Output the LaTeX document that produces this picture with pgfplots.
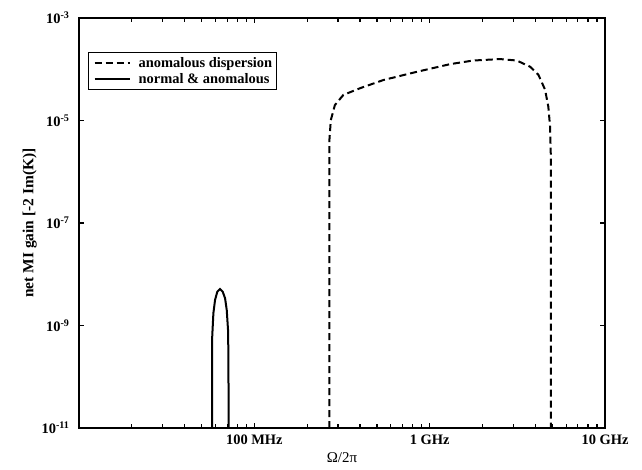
\documentclass[border=0pt]{standalone}
\usepackage{fontspec}
\setmainfont{Liberation Serif}
\usepackage{pgfplots}
\pgfplotsset{compat=1.18}

\newcommand{\figfont}{\fontsize{14.5}{17}\selectfont\bfseries}

\begin{document}
\begin{tikzpicture}
\begin{axis}[
    name=ax,
    scale only axis,
    width=526bp,
    height=410bp,
    xmode=log, ymode=log,
    xmin=1e7, xmax=1e10,
    ymin=1e-11, ymax=1e-3,
    xtick={1e8,1e9,1e10},
    xticklabels={100 MHz,1 GHz,10 GHz},
    minor xtick={2e7,3e7,4e7,5e7,6e7,7e7,8e7,9e7,2e8,3e8,4e8,5e8,6e8,7e8,8e8,9e8,2e9,3e9,4e9,5e9,6e9,7e9,8e9,9e9},
    ytick={1e-11,1e-9,1e-7,1e-5,1e-3},
    yticklabels={10\textsuperscript{-11},10\textsuperscript{-9},10\textsuperscript{-7},10\textsuperscript{-5},10\textsuperscript{-3}},
    minor ytick={},
    major tick length=5bp,
    minor tick length=4bp,
    every tick/.style={black, line width=1.2bp},
    axis line style={line width=1.6bp},
    tick label style={font=\figfont},
    yticklabel style={xshift=-6bp},
    xticklabel style={yshift=-3bp},
    xlabel={Ω/2π},
    ylabel={net MI gain [-2 Im(K)]},
    xlabel style={font=\fontsize{15}{17}\selectfont\mdseries, yshift=-1bp},
    ylabel style={font=\fontsize{15.5}{18}\selectfont\bfseries, yshift=-2bp},
    legend style={at={(0,1)}, anchor=north west, xshift=9bp, yshift=-34bp,
        draw=black, line width=1.2bp, fill=white, inner xsep=2bp, inner ysep=3bp,
        row sep=0bp, font=\figfont},
    legend cell align=left,
    legend image code/.code={\path (0bp,0bp) (44bp,0bp); \draw[#1, line width=1.8bp] (3bp,0bp) -- (38bp,0bp);},
]

\addplot[black, line width=2bp, dash pattern=on 7bp off 4bp] coordinates {
    (2.68e8,1e-11) (2.68e8,4.17e-6) (2.73e8,1.02e-5) (2.88e8,2.0e-5)
    (3.22e8,3.16e-5) (4.01e8,4.27e-5) (5.45e8,6.17e-5) (8.43e8,8.9e-5)
    (1.31e9,1.26e-4) (1.77e9,1.48e-4) (2.52e9,1.58e-4) (3.14e9,1.48e-4)
    (3.74e9,1.12e-4) (4.17e9,7.8e-5) (4.55e9,4.0e-5) (4.75e9,1.86e-5)
    (4.86e9,7.6e-6) (4.91e9,1.95e-6) (4.91e9,1e-11)
};
\addlegendentry{anomalous dispersion}

\addplot[black, line width=2bp] coordinates {
    (5.75e7,1e-11) (5.75e7,6.0e-10) (5.84e7,1.74e-9) (5.97e7,3.16e-9)
    (6.15e7,4.57e-9) (6.37e7,5.13e-9) (6.60e7,4.57e-9) (6.81e7,3.39e-9)
    (6.96e7,2.0e-9) (7.08e7,8.1e-10) (7.11e7,2.9e-10) (7.14e7,1e-11)
};
\addlegendentry{normal \& anomalous}

\end{axis}
\pgfresetboundingbox
\path (ax.south west) ++(-79bp,-42bp) rectangle ++(642bp,470bp);
\end{tikzpicture}
\end{document}
